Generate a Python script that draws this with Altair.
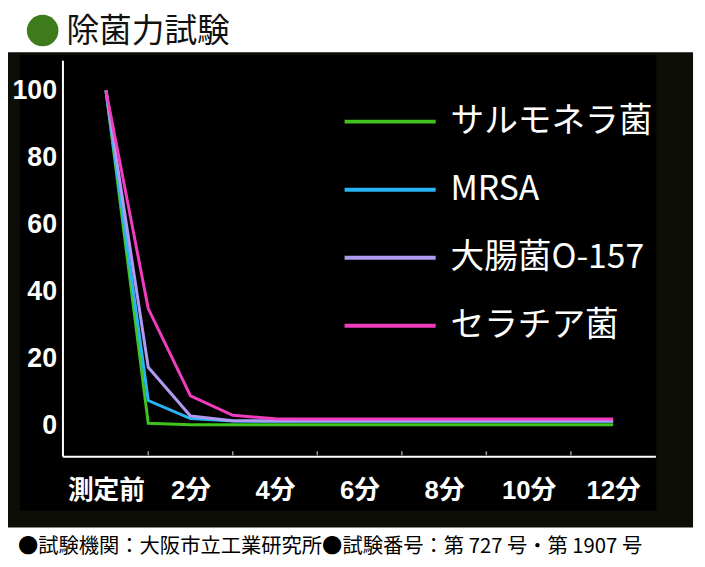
import altair as alt
import pandas as pd

# ---- data ----
minutes = [0, 1, 2, 3, 4, 5, 6, 7, 8, 9, 10, 11, 12]
series_names = ["サルモネラ菌", "MRSA", "大腸菌O-157", "セラチア菌"]
salmonella = [100, 0.8, 0.4, 0.4, 0.4, 0.4, 0.4, 0.4, 0.4, 0.4, 0.4, 0.4, 0.4]
mrsa = [100, 7.6, 2.2, 1.5, 1.4, 1.4, 1.4, 1.4, 1.4, 1.4, 1.4, 1.4, 1.4]
ecoli = [100, 17.5, 3.0, 1.6, 1.5, 1.5, 1.5, 1.5, 1.5, 1.5, 1.5, 1.5, 1.5]
serratia = [100, 35, 9, 3.2, 2.2, 2.1, 2.1, 2.1, 2.1, 2.1, 2.1, 2.1, 2.1]
series_values = [salmonella, mrsa, ecoli, serratia]
line_colors = ["#3ec41c", "#2ab4f5", "#b09af2", "#f23cbf"]
tick_minutes = [1, 3, 5, 7, 9, 11]
label_minutes = [0, 2, 4, 6, 8, 10, 12]
y_ticks = [0, 20, 40, 60, 80, 100]
title_text = "除菌力試験"
footer_text = "●試験機関：大阪市立工業研究所●試験番号：第 727 号・第 1907 号"

rows = []
for name, vals in zip(series_names, series_values):
    for m, v in zip(minutes, vals):
        rows.append({"series": name, "minute": m, "value": v})
df = pd.DataFrame(rows)
one = pd.DataFrame({"a": [0]})

xscale = alt.Scale(domain=[-1.03, 13.0], nice=False, zero=False)
yscale = alt.Scale(domain=[-9, 109], nice=False, zero=False)

xaxis = alt.Axis(values=label_minutes, title=None, ticks=False,
                 domainColor="white", domainWidth=2,
                 labelColor="white", labelFontSize=26, labelFontWeight="bold",
                 labelFont="Liberation Sans, Noto Sans CJK JP",
                 labelPadding=22, labelFlush=False, grid=False, zindex=1,
                 labelExpr="datum.value == 0 ? '測定前' : datum.value + '分'")
yaxis = alt.Axis(values=y_ticks, title=None, ticks=False,
                 domainColor="white", domainWidth=2,
                 labelColor="white", labelFontSize=27, labelFontWeight="bold",
                 labelFont="Liberation Sans",
                 labelPadding=6, grid=False, zindex=1)

outer = alt.Chart(one).mark_rect(color="#0e0e08").encode(
    x=alt.value(-57), x2=alt.value(637), y=alt.value(-8), y2=alt.value(472))
inner = alt.Chart(one).mark_rect(color="#000000").encode(
    x=alt.value(-43), x2=alt.value(600), y=alt.value(-5), y2=alt.value(455))

lines = alt.Chart(df).mark_line(strokeWidth=3).encode(
    x=alt.X("minute:Q", scale=xscale, axis=xaxis),
    y=alt.Y("value:Q", scale=yscale, axis=yaxis),
    color=alt.Color("series:N", scale=alt.Scale(domain=series_names, range=line_colors),
                    legend=None),
    order=alt.Order("minute:Q"),
)

ticks = alt.Chart(pd.DataFrame({"minute": tick_minutes})).mark_rule(
    color="#9a9a9a", strokeWidth=1.5).encode(
    x=alt.X("minute:Q", scale=xscale, axis=xaxis), y=alt.value(395), y2=alt.value(399))

layers = [outer, inner, ticks, lines]

for i, (name, col) in enumerate(zip(series_names, line_colors)):
    py = 62 + i * 68.7
    d = pd.DataFrame({"series": [name]})
    layers.append(alt.Chart(d).mark_rule(color=col, strokeWidth=4).encode(
        x=alt.value(285), x2=alt.value(377), y=alt.value(py)))
    layers.append(alt.Chart(d).mark_text(
        color="white", fontSize=34, font="Noto Sans CJK JP", align="left",
        baseline="middle").encode(
        x=alt.value(392), y=alt.value(py), text=alt.Text("series:N")))

layers.append(alt.Chart(one).mark_point(filled=True, shape="circle", size=1018,
                                         color="#3d7b1b", opacity=1).encode(
    x=alt.value(-20), y=alt.value(-30)))
layers.append(alt.Chart(one).mark_text(
    color="#111111", fontSize=33, font="Noto Sans CJK JP", align="left",
    baseline="middle").encode(x=alt.value(4), y=alt.value(-28), text=alt.value(title_text)))
layers.append(alt.Chart(one).mark_text(
    color="#000000", fontSize=20.5, font="Noto Sans CJK JP", align="left",
    baseline="middle").encode(x=alt.value(-45), y=alt.value(492), text=alt.value(footer_text)))

chart = alt.layer(*layers).properties(
    width=599, height=400,
    autosize=alt.AutoSizeParams(type="none"),
    padding={"left": 55, "top": 50, "right": 42, "bottom": 100},
    background="white",
).configure_view(stroke=None)

chart.save("out.html", embed_options={"renderer": "svg", "actions": False})
